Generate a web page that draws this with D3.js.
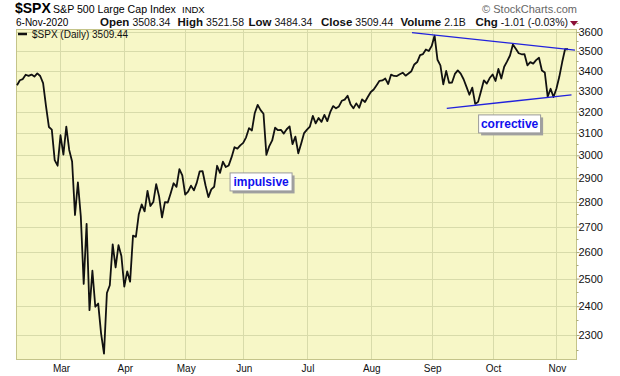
<!DOCTYPE html>
<html>
<head>
<meta charset="utf-8">
<script src="https://cdn.jsdelivr.net/npm/d3@7"></script>
<style>
  body { margin: 0; background: #fff; }
  text { font-family: Arial, "Liberation Sans", sans-serif; }
</style>
</head>
<body>
<div id="chart"></div>
<script>
// daily closes, $SPX, by month (trading days)
const feb = [3327.71, 3352.09, 3357.75, 3379.45, 3373.94, 3380.16, 3370.29, 3386.15, 3373.23, 3337.75, 3225.89, 3128.21, 3116.39, 2978.76, 2954.22];
const mar = [3090.23, 3003.37, 3130.12, 3023.94, 2972.37, 2746.56, 2882.23, 2741.38, 2480.64, 2711.02, 2386.13, 2529.19, 2398.10, 2409.39, 2304.92, 2237.40, 2447.33, 2475.56, 2630.07, 2541.47, 2626.65, 2584.59];
const apr = [2470.50, 2526.90, 2488.65, 2663.68, 2659.41, 2749.98, 2789.82, 2761.63, 2846.06, 2783.36, 2799.55, 2874.56, 2823.16, 2736.56, 2799.31, 2797.80, 2836.74, 2878.48, 2863.39, 2939.51, 2912.43];
const may = [2830.71, 2842.74, 2868.44, 2848.42, 2881.19, 2929.80, 2930.32, 2870.12, 2820.00, 2852.50, 2863.70, 2953.91, 2922.94, 2971.61, 2948.51, 2955.45, 2991.77, 3036.13, 3029.73, 3044.31];
const jun = [3055.73, 3080.82, 3122.87, 3112.35, 3193.93, 3232.39, 3207.18, 3190.14, 3002.10, 3041.31, 3066.59, 3124.74, 3113.49, 3115.34, 3097.74, 3117.86, 3131.29, 3050.33, 3083.76, 3009.05, 3053.24, 3100.29];
const jul = [3115.86, 3130.01, 3179.72, 3145.32, 3169.94, 3152.05, 3185.04, 3155.22, 3197.52, 3226.56, 3215.57, 3224.73, 3251.84, 3257.30, 3276.02, 3235.66, 3215.63, 3239.41, 3218.44, 3258.44, 3246.22, 3271.12];
const aug = [3294.61, 3306.51, 3327.77, 3349.16, 3351.28, 3360.47, 3333.69, 3380.35, 3373.43, 3372.85, 3381.99, 3389.78, 3374.85, 3385.51, 3397.16, 3431.28, 3443.62, 3478.73, 3484.55, 3508.01, 3500.31];
const sep = [3526.65, 3580.84, 3455.06, 3426.96, 3331.84, 3398.96, 3339.19, 3340.97, 3383.54, 3401.20, 3385.49, 3357.01, 3319.47, 3281.06, 3315.57, 3236.92, 3246.59, 3298.46, 3351.60, 3335.47, 3363.00];
const oct = [3380.80, 3348.42, 3408.60, 3360.97, 3419.44, 3446.83, 3477.14, 3534.22, 3511.93, 3488.67, 3483.34, 3483.81, 3426.92, 3443.12, 3435.56, 3453.49, 3465.39, 3400.97, 3390.68, 3271.03, 3310.11, 3269.96];
const nov = [3310.24, 3369.16, 3443.44, 3510.45, 3509.44];

const monthSeries = [feb, mar, apr, may, jun, jul, aug, sep, oct, nov];
const monthLabels = ["Feb", "Mar", "Apr", "May", "Jun", "Jul", "Aug", "Sep", "Oct", "Nov"];
const yTicks = [2300, 2400, 2500, 2600, 2700, 2800, 2900, 3000, 3100, 3200, 3300, 3400, 3500, 3600];

// trend channel: [trading-day index, price]
const upperLine = [[136.2, 3597], [192.4, 3505]];
const lowerLine = [[148.2, 3216], [191.2, 3280]];
const notes = [
  { text: "impulsive", i: 73.3, v: 2925 },
  { text: "corrective", i: 159, v: 3187 }
];

const closes = monthSeries.flat();
const monthStart = [];
let acc = 0;
monthSeries.forEach(m => { monthStart.push(acc); acc += m.length; });

const width = 620, height = 376;
const plot = { left: 16, right: 577, top: 29, bottom: 360 };

const svg = d3.select("#chart").append("svg")
  .attr("width", width)
  .attr("height", height);

const x = d3.scaleLinear().domain([0, closes.length - 1]).range([17, 568]);
const y = d3.scaleLog().domain([2216.5, 3616]).range([plot.bottom, plot.top]);

// plot background
svg.append("rect")
  .attr("x", plot.left).attr("y", plot.top)
  .attr("width", plot.right - plot.left).attr("height", plot.bottom - plot.top)
  .attr("fill", "#f7f7c7");

// grid
const grid = svg.append("g").attr("stroke", "#d8dbaa").attr("stroke-width", 1);
grid.selectAll("line.h").data(yTicks).enter().append("line")
  .attr("x1", plot.left).attr("x2", plot.right)
  .attr("y1", d => Math.round(y(d)) + 0.5).attr("y2", d => Math.round(y(d)) + 0.5);
grid.selectAll("line.v").data(monthStart.slice(1)).enter().append("line")
  .attr("y1", plot.top).attr("y2", plot.bottom)
  .attr("x1", d => Math.round(x(d)) + 0.5).attr("x2", d => Math.round(x(d)) + 0.5);

// border
svg.append("rect")
  .attr("x", plot.left + 0.5).attr("y", plot.top + 0.5)
  .attr("width", plot.right - plot.left - 1).attr("height", plot.bottom - plot.top - 1)
  .attr("fill", "none").attr("stroke", "#c4c48a");

// right axis
const yAxis = d3.axisRight(y).tickValues(yTicks).tickSize(3).tickFormat(d3.format("d"));
const ya = svg.append("g").attr("transform", `translate(${plot.right - 0.5},0)`).call(yAxis);
ya.select(".domain").remove();
ya.selectAll("line").attr("stroke", "#a8a878");
ya.selectAll("text").attr("x", 2).attr("font-size", 11).attr("fill", "#111")
  .attr("font-family", "Arial, 'Liberation Sans', sans-serif");
// minor ticks
svg.append("g").selectAll("line").data(yTicks.map(d => d + 50).concat([2250])).enter().append("line")
  .attr("x1", plot.right - 0.5).attr("x2", plot.right + 1.5)
  .attr("y1", d => Math.round(y(d)) + 0.5).attr("y2", d => Math.round(y(d)) + 0.5)
  .attr("stroke", "#a8a878");

// month labels
svg.append("g").selectAll("text").data(monthStart.slice(1)).enter().append("text")
  .attr("x", d => x(d) + 1)
  .attr("y", 372)
  .attr("text-anchor", "middle")
  .attr("font-size", 10)
  .attr("fill", "#111")
  .text((d, i) => monthLabels[i + 1]);

// price line
svg.append("path")
  .datum(closes)
  .attr("fill", "none")
  .attr("stroke", "#111")
  .attr("stroke-width", 1.8)
  .attr("stroke-linejoin", "round")
  .attr("d", d3.line().x((d, i) => x(i)).y(d => y(d)));

// trend channel
[upperLine, lowerLine].forEach(l => {
  svg.append("path")
    .datum(l)
    .attr("fill", "none")
    .attr("stroke", "#2222dd")
    .attr("stroke-width", 1.3)
    .attr("d", d3.line().x(d => x(d[0])).y(d => y(d[1])));
});

// annotation boxes
notes.forEach(n => {
  const bx = x(n.i), by = y(n.v), bw = 62, bh = 18;
  svg.append("rect").attr("x", bx + 3).attr("y", by + 3).attr("width", bw).attr("height", bh).attr("fill", "#a0a0a0");
  svg.append("rect").attr("x", bx + 0.5).attr("y", by + 0.5).attr("width", bw).attr("height", bh)
    .attr("fill", "#fff").attr("stroke", "#9a9a9a");
  svg.append("text").attr("x", bx + bw / 2 + 0.5).attr("y", by + 13.5)
    .attr("text-anchor", "middle").attr("font-size", 12).attr("font-weight", "bold")
    .attr("fill", "#1010ee").text(n.text);
});

// legend
svg.append("line").attr("x1", 18).attr("x2", 27).attr("y1", 34).attr("y2", 34)
  .attr("stroke", "#111").attr("stroke-width", 2.5);
svg.append("text").attr("x", 32).attr("y", 38)
  .attr("font-family", "'DejaVu Sans', Verdana, sans-serif").attr("font-size", 10).attr("fill", "#111")
  .text("$SPX (Daily) 3509.44");

// header
svg.append("text").attr("x", 15).attr("y", 13).attr("font-size", 14).attr("font-weight", "bold").text("$SPX");
svg.append("text").attr("x", 53).attr("y", 13).attr("font-size", 10.6).text("S&P 500 Large Cap Index");
svg.append("text").attr("x", 182).attr("y", 13).attr("font-size", 9.5).text("INDX");
svg.append("text").attr("x", 16).attr("y", 26).attr("font-size", 10).text("6-Nov-2020");

const quote = [
  { label: "Open", value: "3508.34", x: 100 },
  { label: "High", value: "3521.58", x: 177.5 },
  { label: "Low", value: "3484.34", x: 248.5 },
  { label: "Close", value: "3509.44", x: 321 },
  { label: "Volume", value: "2.1B", x: 400.5 },
  { label: "Chg", value: "-1.01 (-0.03%)", x: 475.5 }
];
quote.forEach(q => {
  const t = svg.append("text").attr("x", q.x).attr("y", 26).attr("fill", "#111");
  t.append("tspan").attr("font-size", 11.5).attr("font-weight", "bold").text(q.label);
  t.append("tspan").attr("font-size", 10.5).attr("dx", 3).text(q.value);
});
svg.append("path").attr("d", "M570,21L578,21L574,26Z").attr("fill", "#8b1038");

svg.append("text").attr("x", 577).attr("y", 13).attr("text-anchor", "end")
  .attr("font-size", 11).attr("fill", "#666").text("© StockCharts.com");
</script>
</body>
</html>
